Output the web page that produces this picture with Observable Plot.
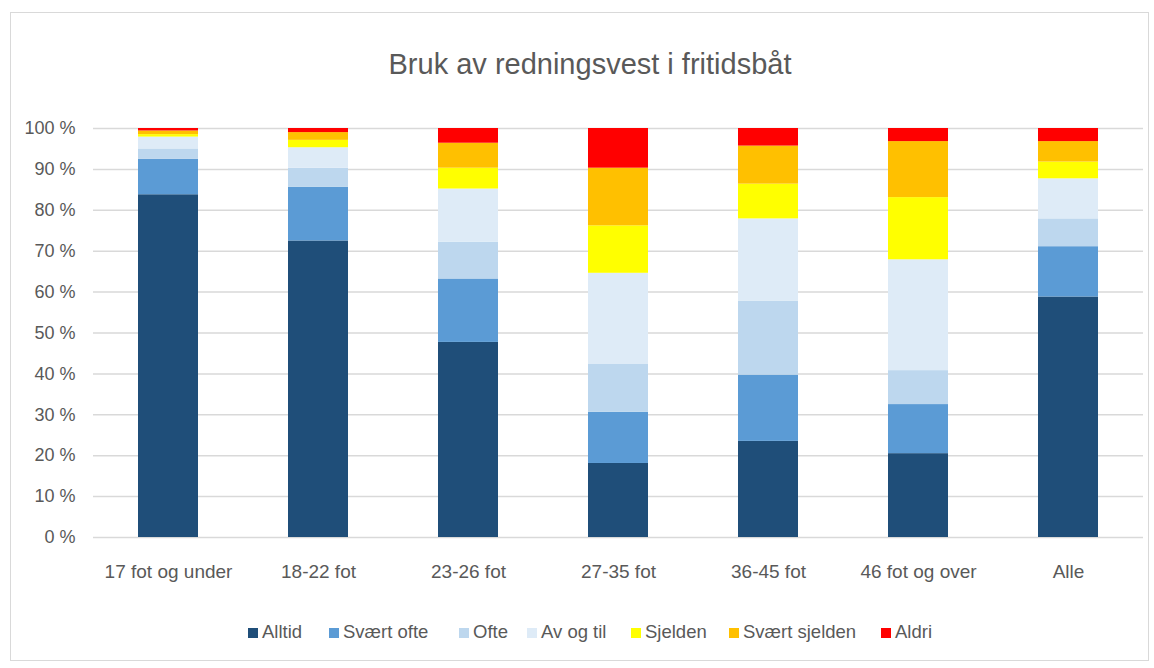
<!DOCTYPE html>
<html>
<head>
<meta charset="utf-8">
<script src="https://cdn.jsdelivr.net/npm/d3@7"></script>
<script src="https://cdn.jsdelivr.net/npm/@observablehq/plot@0.6"></script>
<style>
  html, body { margin: 0; padding: 0; background: #fff; }
  body { width: 1154px; height: 668px; position: relative; overflow: hidden;
         font-family: "Liberation Sans", Arial, sans-serif; color: #595959; }
  #frame { position: absolute; left: 10px; top: 12px; width: 1139px; height: 649px; border: 1px solid #d9d9d9; box-sizing: border-box; }
  #title { position: absolute; left: 0; top: 48px; width: 1180px; text-align: center; font-size: 29px; color: #595959; }
  #chart { position: absolute; left: 0; top: 0; }
  #legend { position: absolute; left: 0; top: 621px; width: 1154px; height: 22px; }
  .item { position: absolute; top: 0; font-size: 18.5px; line-height: 22px; white-space: nowrap; }
  .sw { display: inline-block; width: 10px; height: 10px; margin-right: 4px; vertical-align: 0px; }
</style>
</head>
<body>
<div id="frame"></div>
<div id="chart"></div>
<div id="title">Bruk av redningsvest i fritidsbåt</div>
<div id="legend"></div>
<script>
const categories = ["17 fot og under", "18-22 fot", "23-26 fot", "27-35 fot", "36-45 fot", "46 fot og over", "Alle"];
const seriesNames = ["Alltid", "Svært ofte", "Ofte", "Av og til", "Sjelden", "Svært sjelden", "Aldri"];
const seriesColors = ["#1f4e79", "#5b9bd5", "#bdd7ee", "#deebf7", "#ffff00", "#ffc000", "#ff0000"];

const alltid       = [83.8, 72.5, 47.7, 18.1, 23.5, 20.5, 58.8];
const svaertOfte   = [ 8.7, 13.1, 15.5, 12.5, 16.2, 12.0, 12.3];
const ofte         = [ 2.5,  4.7,  9.0, 11.7, 18.1,  8.3,  6.8];
const avOgTil      = [ 2.9,  5.0, 13.0, 22.3, 20.1, 27.1,  9.8];
const sjelden      = [ 0.6,  1.8,  5.1, 11.6,  8.5, 15.2,  4.1];
const svaertSjelden= [ 0.9,  1.9,  6.1, 14.1,  9.3, 13.7,  5.0];
const aldri        = [ 0.6,  1.0,  3.6,  9.7,  4.3,  3.2,  3.2];

const yTicks = [0, 10, 20, 30, 40, 50, 60, 70, 80, 90, 100];

const seriesValues = [alltid, svaertOfte, ofte, avOgTil, sjelden, svaertSjelden, aldri];
const data = [];
seriesNames.forEach((s, si) => {
  categories.forEach((c, ci) => {
    data.push({category: c, series: s, value: seriesValues[si][ci]});
  });
});

const chart = Plot.plot({
  width: 1154,
  height: 668,
  marginTop: 128,
  marginBottom: 131,
  marginLeft: 93,
  marginRight: 11,
  style: {fontFamily: '"Liberation Sans", Arial, sans-serif', fontSize: "18px", color: "#595959", background: "transparent"},
  x: {domain: categories, paddingInner: 0.6, paddingOuter: 0.3, label: null},
  y: {domain: [0, 100], label: null},
  color: {domain: seriesNames, range: seriesColors},
  marks: [
    Plot.ruleY(yTicks, {stroke: "#d9d9d9", strokeWidth: 1.5}),
    Plot.axisY(yTicks, {tickFormat: d => d + " %", tickSize: 0, tickPadding: 18, label: null}),
    Plot.axisX({tickSize: 0, tickPadding: 27, fontSize: 19, label: null}),
    Plot.barY(data, Plot.stackY({
      x: "category", y: "value", fill: "series", order: seriesNames
    }))
  ]
});
document.getElementById("chart").appendChild(chart);

const legend = document.getElementById("legend");
const legendLeft = [248, 329, 459, 527, 631, 729, 881];
seriesNames.forEach((s, i) => {
  const it = document.createElement("div");
  it.className = "item";
  it.style.left = legendLeft[i] + "px";
  it.innerHTML = `<span class="sw" style="background:${seriesColors[i]}"></span>${s}`;
  legend.appendChild(it);
});
</script>
</body>
</html>
